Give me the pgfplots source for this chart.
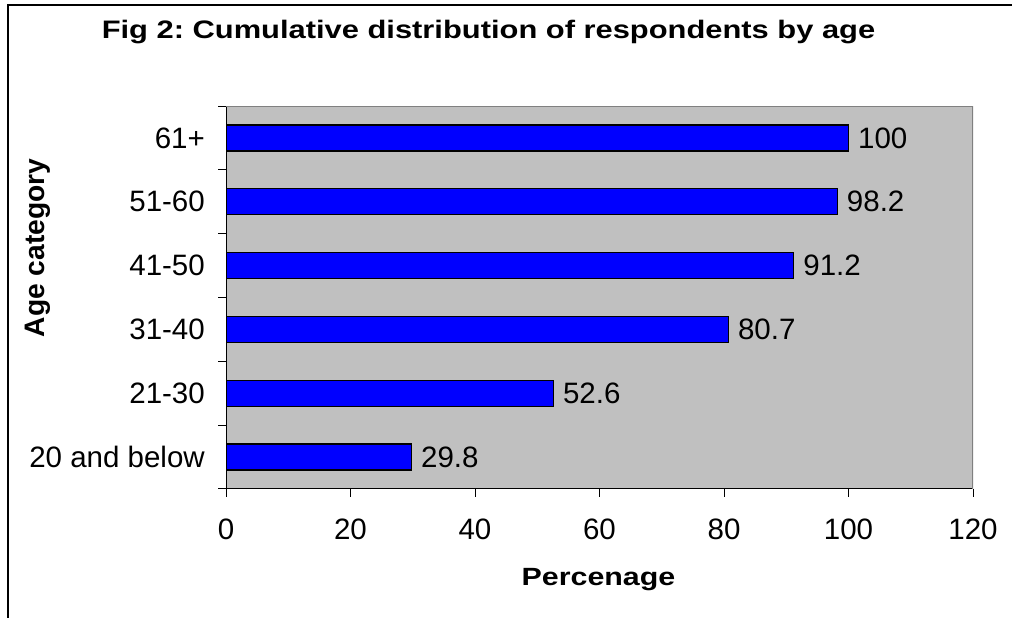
\documentclass[border=0pt]{standalone}
\usepackage{pgfplots}
\pgfplotsset{compat=1.18}
\usepackage{fontspec}
\setmainfont{Liberation Sans}
\newfontfamily\stretchfont[FakeStretch=1.22]{Liberation Sans}
\definecolor{plotgray}{RGB}{192,192,192}
\definecolor{borderg}{RGB}{128,128,128}
\definecolor{barblue}{RGB}{0,0,255}
\frenchspacing

\begin{document}
\begin{tikzpicture}[x=1pt,y=1pt]
\useasboundingbox (0,0) rectangle (1012,618);
\draw[line width=2pt] (8,-2) -- (8,613) -- (1014,613);
\node[anchor=base, font=\stretchfont\bfseries\fontsize{25.3}{30}\selectfont] at (488.5,579) {Fig 2: Cumulative distribution of respondents by age};
\node[anchor=base, font=\stretchfont\bfseries\fontsize{24.9}{28}\selectfont] at (598.5,32) {Percenage};
\node[anchor=base, rotate=90, font=\bfseries\fontsize{28.2}{30}\selectfont] at (44,370) {Age category};
\begin{axis}[
  at={(226pt,129pt)}, anchor=south west,
  scale only axis, width=747pt, height=383pt,
  xmin=0, xmax=120, ymin=-0.5, ymax=5.5,
  xbar, bar width=26pt,
  axis background/.style={fill=plotgray},
  axis x line*=bottom, axis y line*=left,
  axis line style={black, line width=1pt},
  tick style={black, line width=1pt},
  tick align=outside,
  major tick length=8pt,
  /pgf/number format/assume math mode=true,
  ticklabel style={font=\fontsize{29.5}{32}\selectfont},
  xtick={0,20,...,120},
  xticklabel style={anchor=base, yshift=-43pt, inner sep=0pt},
  ytick={-0.5,0.5,...,5.5},
  yticklabels={},
  extra y ticks={0,1,2,3,4,5},
  extra y tick labels={20 and below,21-30,31-40,41-50,51-60,61+},
  extra y tick style={tick style={draw=none},
    yticklabel style={anchor=east, inner sep=0pt, xshift=-13pt}},
  point meta=x,
  nodes near coords,
  every node near coord/.append style={font=\fontsize{29.5}{32}\selectfont, anchor=west, inner sep=0pt, xshift=9pt, black},
]
\addplot[fill=barblue, draw=black, line width=1.3pt] coordinates {
  (29.8,0) (52.6,1) (80.7,2) (91.2,3) (98.2,4) (100,5)
};
\draw[borderg, line width=1.5pt] (rel axis cs:0,1) -- (rel axis cs:1,1) -- (rel axis cs:1,0);
\end{axis}
\end{tikzpicture}
\end{document}
